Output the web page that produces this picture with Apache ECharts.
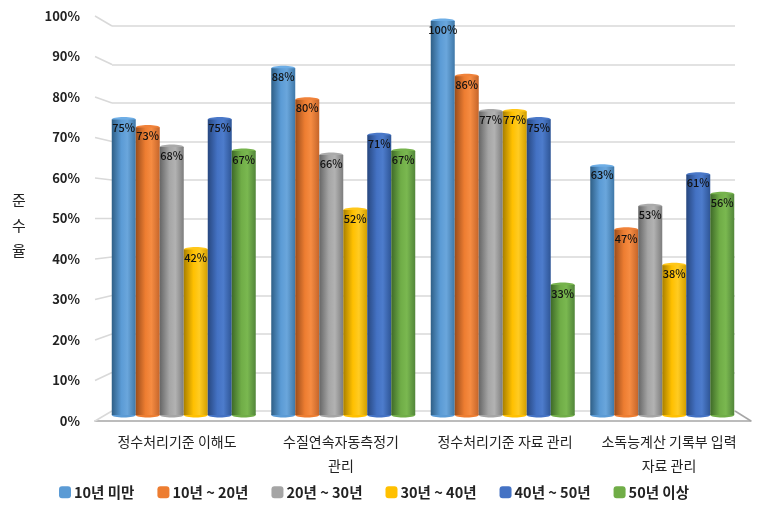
<!DOCTYPE html>
<html>
<head>
<meta charset="utf-8">
<style>
    html, body { margin: 0; padding: 0; background: #fff; }
    #chart { width: 768px; height: 519px; }
</style>
<script src="https://cdn.jsdelivr.net/npm/echarts@6/dist/echarts.min.js"></script>
</head>
<body>
<div id="chart"></div>
<script>
    const categories = ['정수처리기준 이해도', '수질연속자동측정기\n관리', '정수처리기준 자료 관리', '소독능계산 기록부 입력\n자료 관리'];
    const seriesNames = ['10년 미만', '10년 ~ 20년', '20년 ~ 30년', '30년 ~ 40년', '40년 ~ 50년', '50년 이상'];
    const under10 = [75, 88, 100, 63];
    const from10to20 = [73, 80, 86, 47];
    const from20to30 = [68, 66, 77, 53];
    const from30to40 = [42, 52, 77, 38];
    const from40to50 = [75, 71, 75, 61];
    const over50 = [67, 67, 33, 56];
    const yTicks = [0, 10, 20, 30, 40, 50, 60, 70, 80, 90, 100];

    const seriesValues = [under10, from10to20, from20to30, from30to40, from40to50, over50];
    // dark edge, mid, light, right edge, cap
    const palette = [
        ['#2f5f86', '#5b9bd5', '#6aa6dc', '#3f78a8', '#6eaee6'],
        ['#9a4d1c', '#ed7d31', '#f68c42', '#c5652a', '#f0823a'],
        ['#666666', '#a5a5a5', '#b2b2b2', '#7d7d7d', '#aaaaaa'],
        ['#a87f00', '#ffc000', '#ffcb22', '#d29f00', '#ffc71a'],
        ['#27477f', '#4472c4', '#4d7ccc', '#2e5596', '#4a78c8'],
        ['#3e6a28', '#70ad47', '#7ab850', '#52863a', '#76b34d']
    ];
    const font = '"Noto Sans CJK KR", "Noto Sans", sans-serif';
    const barW = 24;

    const chart = echarts.init(document.getElementById('chart'));

    function cylinder(c) {
        return new echarts.graphic.LinearGradient(0, 0, 1, 0, [
            { offset: 0, color: c[0] },
            { offset: 0.4, color: c[1] },
            { offset: 0.65, color: c[2] },
            { offset: 1, color: c[3] }
        ]);
    }

    // 바닥과 왼쪽 벽 사선
    function renderWall(params, api) {
        const v = api.value(1);
        const back = api.coord([0, v]);
        const backRight = api.coord([1, v]);
        const frontY = chart.convertToPixel({ yAxisIndex: 0 }, v);
        const frontL = chart.convertToPixel({ xAxisIndex: 3 }, 0);
        const frontR = chart.convertToPixel({ xAxisIndex: 3 }, 1);
        const children = [{
            type: 'line',
            shape: { x1: frontL, y1: frontY, x2: back[0], y2: back[1] },
            style: { stroke: '#d9d9d9', lineWidth: 1.5, fill: null }
        }];
        if (v === 0) {
            children.push({
                type: 'line',
                shape: { x1: frontR, y1: frontY, x2: backRight[0], y2: backRight[1] },
                style: { stroke: '#a6a6a6', lineWidth: 1.5, fill: null }
            });
        }
        return { type: 'group', children: children };
    }

    // 원통 위, 아래 타원
    function renderCaps(i) {
        return function (params, api) {
            const top = api.coord([api.value(0), api.value(1)]);
            const base = api.coord([api.value(0), 0]);
            const x = top[0] + (i - 2.5) * barW;
            const ellipse = (cy, color) => ({
                type: 'ellipse',
                shape: { cx: x, cy: cy, rx: barW / 2, ry: 2.5 },
                style: { fill: color }
            });
            return {
                type: 'group',
                children: [ellipse(top[1], palette[i][4]), ellipse(base[1], palette[i][1])]
            };
        };
    }

    const series = [{
        type: 'custom',
        xAxisIndex: 1,
        yAxisIndex: 1,
        silent: true,
        z: 1,
        renderItem: renderWall,
        encode: { x: 0, y: 1 },
        data: yTicks.map(v => [0, v])
    }];

    seriesNames.forEach((name, i) => {
        series.push({
            name: name,
            type: 'bar',
            xAxisIndex: 2,
            yAxisIndex: 2,
            barWidth: barW,
            barGap: '0%',
            z: 3,
            itemStyle: { color: cylinder(palette[i]) },
            label: {
                show: true,
                position: 'insideTop',
                distance: 3,
                formatter: '{c}%',
                color: '#111',
                fontFamily: font,
                fontSize: 11,
                fontWeight: 500
            },
            data: seriesValues[i]
        });
        series.push({
            name: name + ' cap',
            type: 'custom',
            xAxisIndex: 2,
            yAxisIndex: 2,
            silent: true,
            z: 2,
            renderItem: renderCaps(i),
            encode: { x: 0, y: 1 },
            data: seriesValues[i].map((v, k) => [k, v])
        });
    });

    chart.setOption({
        animation: false,
        backgroundColor: '#fff',
        title: {
            text: '준\n수\n율',
            left: 7,
            top: 183,
            textStyle: { fontFamily: font, fontSize: 15, fontWeight: 'normal', color: '#222', lineHeight: 25 }
        },
        legend: {
            data: seriesNames.map((n, i) => ({ name: n, itemStyle: { color: palette[i][1] } })),
            left: 54,
            top: 480,
            icon: 'roundRect',
            itemWidth: 12,
            itemHeight: 12,
            itemGap: 23,
            textStyle: { fontFamily: font, fontSize: 14.5, fontWeight: 'bold', color: '#222', padding: [0, 0, 0, -2] }
        },
        grid: [
            { left: 95, width: 656, top: 16, height: 405 },
            { left: 112, width: 623, top: 26, height: 385 },
            { left: 104, width: 638, top: 21, height: 394 }
        ],
        xAxis: [
            {
                gridIndex: 0,
                type: 'category',
                data: categories,
                axisTick: { show: false },
                axisLine: { lineStyle: { color: '#a6a6a6', width: 1.5 } },
                axisLabel: { margin: 9, interval: 0, fontFamily: font, fontSize: 14, color: '#222', lineHeight: 24 }
            },
            { gridIndex: 1, type: 'value', min: 0, max: 1, show: false },
            { gridIndex: 2, type: 'category', data: categories, show: false },
            { gridIndex: 0, type: 'value', min: 0, max: 1, show: false }
        ],
        yAxis: [
            {
                gridIndex: 0,
                type: 'value',
                min: 0,
                max: 100,
                interval: 10,
                axisLine: { show: false },
                axisTick: { show: false },
                splitLine: { show: false },
                axisLabel: { margin: 15, formatter: '{value}%', fontFamily: font, fontSize: 13, fontWeight: 'bold', color: '#222' }
            },
            {
                gridIndex: 1,
                type: 'value',
                min: 0,
                max: 100,
                interval: 10,
                axisLine: { show: false },
                axisTick: { show: false },
                axisLabel: { show: false },
                splitLine: { lineStyle: { color: '#d9d9d9', width: 1.5 } }
            },
            { gridIndex: 2, type: 'value', min: 0, max: 100, show: false }
        ],
        series: series
    });
</script>
</body>
</html>
